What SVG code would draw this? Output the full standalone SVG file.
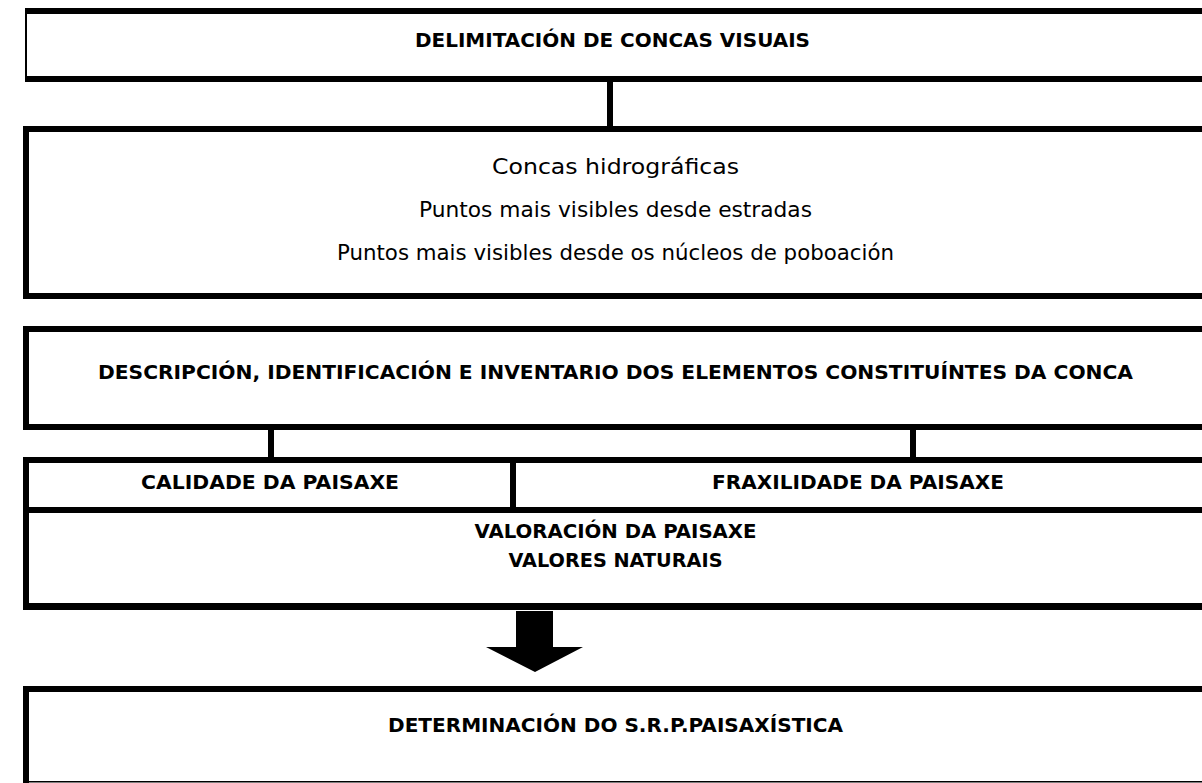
<svg xmlns="http://www.w3.org/2000/svg" width="1202" height="783" viewBox="0 0 1202 783">
<style>
.b{fill:#000}
.t{font-family:"DejaVu Sans","Liberation Sans",sans-serif;font-size:19px;font-weight:bold;fill:#000;text-anchor:middle}
.r{font-family:"DejaVu Sans","Liberation Sans",sans-serif;font-size:21px;fill:#000;text-anchor:middle}
</style>
<rect width="1202" height="783" fill="#fff"/>
<g id="connectors">
<rect class="b" x="607" y="82" width="6" height="45"/>
<rect class="b" x="268" y="430" width="6" height="27"/>
<rect class="b" x="910" y="430" width="6" height="27"/>
<polygon class="b" points="516,611 553,611 553,647 583,647 535,672 486,647 516,647"/>
</g>
<g id="box-delimitacion">
<rect class="b" x="25" y="8" width="1177" height="6"/>
<rect class="b" x="25" y="76" width="1177" height="6"/>
<rect class="b" x="25" y="8" width="2" height="74"/>
<text class="t" x="612.5" y="47" textLength="395" lengthAdjust="spacingAndGlyphs">DELIMITACIÓN DE CONCAS VISUAIS</text>
</g>
<g id="box-concas">
<rect class="b" x="23" y="126" width="1179" height="6"/>
<rect class="b" x="23" y="293" width="1179" height="6"/>
<rect class="b" x="23" y="126" width="6" height="173"/>
<text class="r" x="615.5" y="174" textLength="247" lengthAdjust="spacingAndGlyphs">Concas hidrográficas</text>
<text class="r" x="615.5" y="217" textLength="393" lengthAdjust="spacingAndGlyphs">Puntos mais  visibles desde estradas</text>
<text class="r" x="615.5" y="260" textLength="557" lengthAdjust="spacingAndGlyphs">Puntos mais visibles desde os núcleos de poboación</text>
</g>
<g id="box-descripcion">
<rect class="b" x="23" y="326" width="1179" height="6"/>
<rect class="b" x="23" y="424" width="1179" height="6"/>
<rect class="b" x="23" y="326" width="6" height="104"/>
<text class="t" x="615.5" y="379" textLength="1035" lengthAdjust="spacingAndGlyphs">DESCRIPCIÓN, IDENTIFICACIÓN E INVENTARIO DOS ELEMENTOS CONSTITUÍNTES DA CONCA</text>
</g>
<g id="box-calidade">
<rect class="b" x="23" y="457" width="493" height="6"/>
<rect class="b" x="23" y="507" width="493" height="6"/>
<rect class="b" x="23" y="457" width="6" height="56"/>
<rect class="b" x="510" y="457" width="6" height="56"/>
<text class="t" x="270" y="489" textLength="258" lengthAdjust="spacingAndGlyphs">CALIDADE DA PAISAXE</text>
</g>
<g id="box-fraxilidade">
<rect class="b" x="516" y="457" width="686" height="6"/>
<rect class="b" x="516" y="507" width="686" height="6"/>
<text class="t" x="858" y="489" textLength="292" lengthAdjust="spacingAndGlyphs">FRAXILIDADE DA PAISAXE</text>
</g>
<g id="box-valoracion">
<rect class="b" x="23" y="603" width="1179" height="7"/>
<rect class="b" x="23" y="513" width="6" height="97"/>
<text class="t" x="615.5" y="538" textLength="282" lengthAdjust="spacingAndGlyphs">VALORACIÓN DA PAISAXE</text>
<text class="t" x="615.5" y="567" textLength="214" lengthAdjust="spacingAndGlyphs">VALORES NATURAIS</text>
</g>
<g id="box-determinacion">
<rect class="b" x="23" y="686" width="1179" height="6"/>
<rect class="b" x="23" y="781" width="1179" height="1.5"/>
<rect class="b" x="23" y="686" width="6" height="97"/>
<text class="t" x="615.5" y="732" textLength="455" lengthAdjust="spacingAndGlyphs">DETERMINACIÓN DO S.R.P.PAISAXÍSTICA</text>
</g>
</svg>
